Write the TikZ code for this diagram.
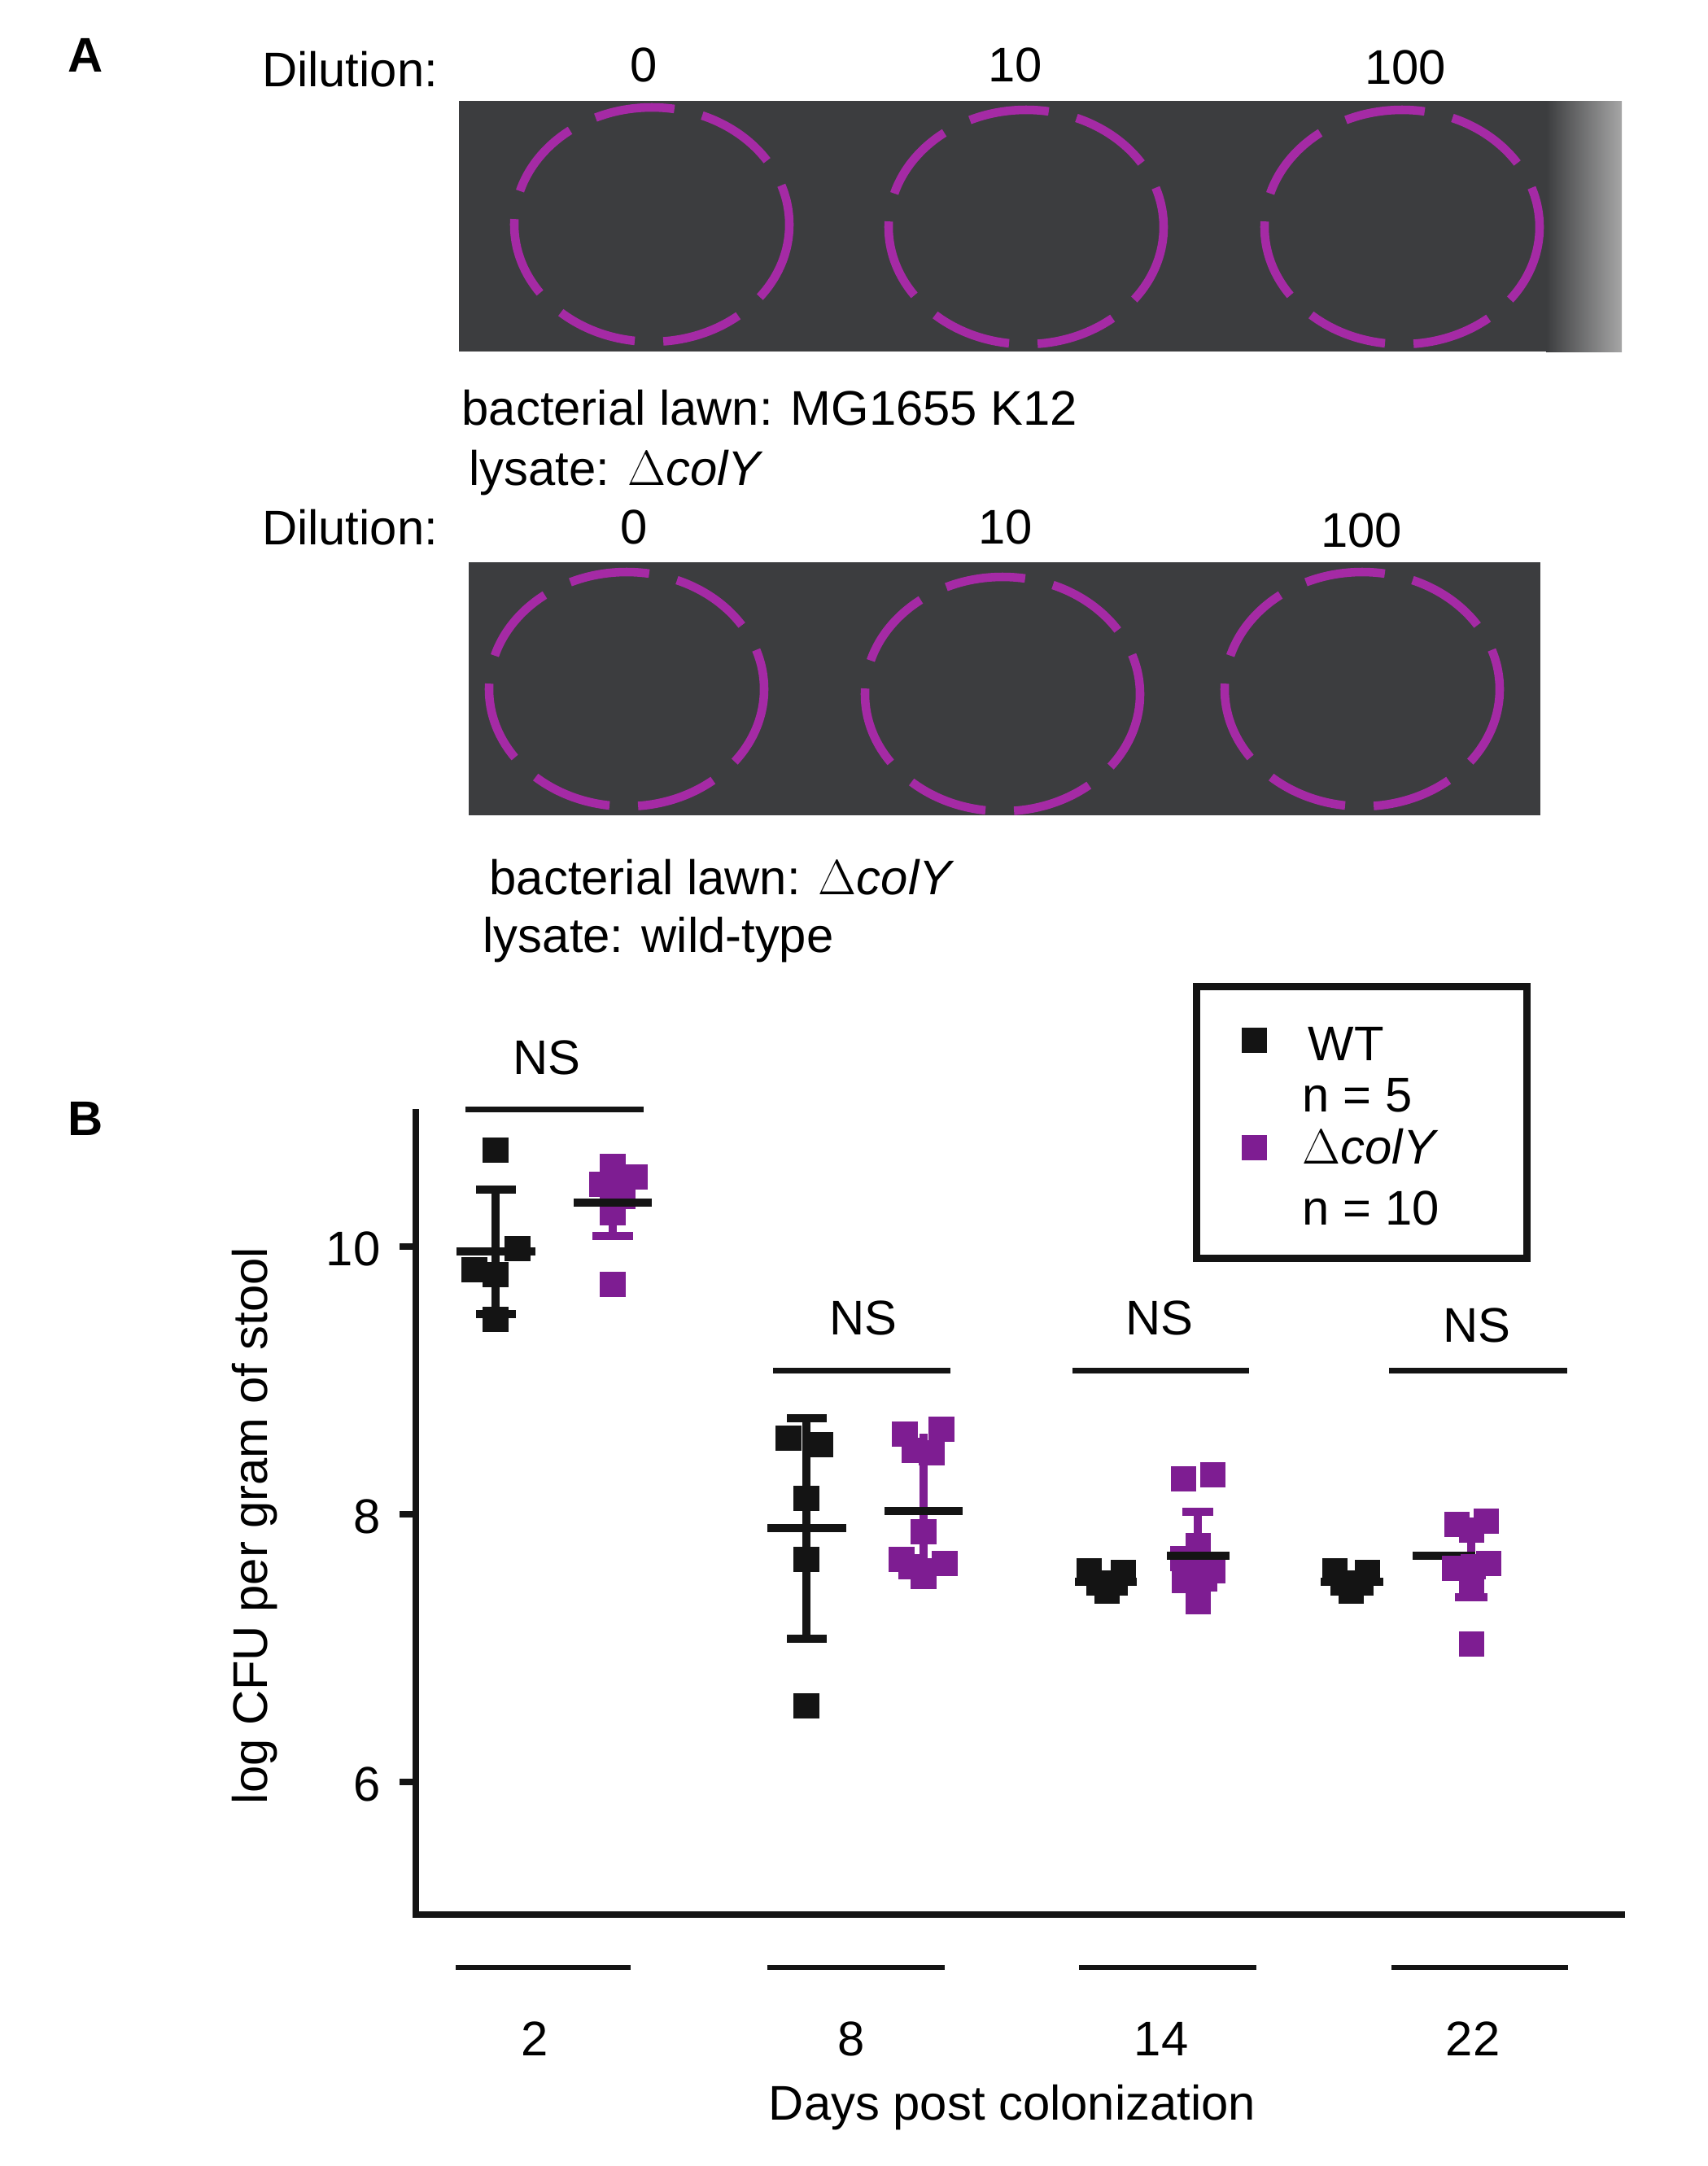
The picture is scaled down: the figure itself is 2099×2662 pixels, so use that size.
\documentclass[tikz,border=0pt]{standalone}
\usepackage{fontspec}
\setmainfont{Liberation Sans}
\begin{document}
\begin{tikzpicture}[x=0.01cm,y=-0.01cm,
  txt/.style={font=\fontsize{17}{20}\selectfont,inner sep=0pt},
  plate/.style={fill=plategray,draw=none},
  ring/.style={draw=ringmag,line width=6pt*0.5,dash pattern=on 28pt off 10pt},
  bs/.style={fill=black!92,minimum size=0.31cm,inner sep=0pt,draw=none,rectangle},
  ps/.style={fill=dpurple,minimum size=0.31cm,inner sep=0pt,draw=none,rectangle},
  bar/.style={line width=0.1cm},
  ax/.style={line width=0.085cm,black!92}]
\definecolor{plategray}{HTML}{3C3D3F}
\definecolor{ringmag}{HTML}{A52AA5}
\definecolor{dpurple}{HTML}{7E1D92}
\useasboundingbox (0,0) rectangle (2099,2662);
% Panel A
\node[txt,font=\fontsize{17}{20}\selectfont\bfseries] (A) at (105,68) {A};
\node[txt] (d1) at (430,85) {Dilution:};
\node[txt] (d10) at (791,80) {0};
\node[txt] (d11) at (1248,80) {10};
\node[txt] (d12) at (1727,83) {100};
\fill[plategray] (564,124) rectangle (1993,432);
\shade[left color=plategray,right color=gray!70] (1900,124) rectangle (1993,432);
\draw[ring] (801,276) ellipse (169 and 144);
\draw[ring] (1261,279) ellipse (169 and 144);
\draw[ring] (1723,279) ellipse (169 and 144);
\node[txt,anchor=west] (l1) at (567,501) {bacterial lawn: MG1655 K12};
\node[txt,anchor=west] (l2) at (576,581) {lysate: $\Delta$\textit{colY}};
\node[txt] (d2) at (430,648) {Dilution:};
\node[txt] (d20) at (779,648) {0};
\node[txt] (d21) at (1236,648) {10};
\node[txt] (d22) at (1673,652) {100};
\fill[plategray] (576,691) rectangle (1893,1002);
\draw[ring] (770,847) ellipse (169 and 144);
\draw[ring] (1232,853) ellipse (169 and 144);
\draw[ring] (1674,847) ellipse (169 and 144);
\node[txt,anchor=west] (l3) at (601,1078) {bacterial lawn: $\Delta$\textit{colY}};
\node[txt,anchor=west] (l4) at (593,1155) {lysate: wild-type};
% Panel B
\node[txt,font=\fontsize{17}{20}\selectfont\bfseries] (B) at (105,1375) {B};
\draw[line width=0.09cm,black!92] (1470,1212) rectangle (1876,1546);
\node[bs] (lgw) at (1541,1278) {};
\node[txt,anchor=west] (wt) at (1607,1283) {WT};
\node[txt,anchor=west] (n5) at (1600,1346) {n = 5};
\node[ps] (lgp) at (1541,1410) {};
\node[txt,anchor=west] (cy) at (1600,1409) {$\Delta$\textit{colY}};
\node[txt,anchor=west] (n10) at (1600,1485) {n = 10};
% axes
\coordinate (o) at (511,2353);
\coordinate (yt) at (511,1363);
\coordinate (xr) at (1997,2353);
\draw[ax] (yt) -- (o) -- (xr);
\foreach \yy/\lab in {1532/10,1861/8,2190/6}{
  \draw[ax] (491,\yy) -- (511,\yy);
  \node[txt,anchor=east] at (468,\yy+3) {\lab};
}
\node[txt,rotate=90] (ylab) at (313,1875) {log CFU per gram of stool};
% NS
\foreach \a/\b/\yy/\cx/\ny in {572/791/1363/672/1300,950/1168/1684/1061/1620,1318/1535/1684/1425/1620,1707/1926/1684/1815/1629}{
  \draw[line width=0.07cm,black!92] (\a,\yy) -- (\b,\yy);
  \node[txt] at (\cx,\ny) {NS};
}
% bottom group lines
\foreach \a/\b/\cx/\lab in {560/775/657/2,943/1161/1046/8,1326/1544/1427/14,1710/1927/1810/22}{
  \draw[line width=0.06cm,black!92] (\a,2418) -- (\b,2418);
  \node[txt] at (\cx,2506) {\lab};
}
\node[txt] (xlab) at (1244,2590) {Days post colonization};
% Day 2 WT
\draw[bar,black!92] (609,1462) -- (609,1615) (585,1462) -- (634,1462) (585,1615) -- (634,1615);
\foreach \p in {(609,1413),(636,1534),(583,1560),(609,1566),(609,1621)} \node[bs] at \p {};
\draw[bar,black!92] (561,1538) -- (658,1538);
% Day 2 colY
\draw[bar,dpurple] (753,1437) -- (753,1519) (728,1519) -- (778,1519);
\foreach \p in {(753,1433),(780,1446),(755,1452),(740,1455),(765,1470),(753,1478),(753,1490),(753,1578)} \node[ps] at \p {};
\draw[bar,black!92] (705,1478) -- (801,1478);
% Day 8 WT
\draw[bar,black!92] (991,1743) -- (991,2014) (967,1743) -- (1016,1743) (967,2014) -- (1016,2014);
\foreach \p in {(969,1767),(1008,1775),(991,1841),(991,1916),(991,2096)} \node[bs] at \p {};
\draw[bar,black!92] (943,1878) -- (1040,1878);
% Day 8 colY
\draw[bar,dpurple] (1135,1762) -- (1135,1930);
\foreach \p in {(1112,1762),(1157,1756),(1124,1782),(1145,1785),(1135,1882),(1108,1916),(1161,1921),(1135,1930),(1135,1937),(1120,1925)} \node[ps] at \p {};
\draw[bar,black!92] (1087,1857) -- (1183,1857);
% Day 14 WT
\foreach \p in {(1338,1930),(1380,1932),(1360,1955),(1370,1945),(1350,1945)} \node[bs] at \p {};
\draw[bar,black!92] (1321,1944) -- (1397,1944);
% Day 14 colY
\draw[bar,dpurple] (1472,1858) -- (1472,1960) (1453,1858) -- (1491,1858);
\foreach \p in {(1454,1817),(1490,1812),(1472,1899),(1453,1915),(1480,1940),(1455,1942),(1472,1957),(1472,1968),(1490,1930),(1465,1930)} \node[ps] at \p {};
\draw[bar,black!92] (1434,1912) -- (1511,1912);
% Day 22 WT
\foreach \p in {(1640,1930),(1680,1932),(1660,1955),(1650,1945),(1672,1945)} \node[bs] at \p {};
\draw[bar,black!92] (1623,1944) -- (1700,1944);
% Day 22 colY
\draw[bar,dpurple] (1808,1873) -- (1808,1963) (1788,1963) -- (1828,1963);
\draw[bar,black!92] (1736,1912) -- (1813,1912);
\foreach \p in {(1790,1873),(1826,1869),(1808,1880),(1787,1927),(1829,1921),(1808,1942),(1810,1925)} \node[ps] at \p {};
\draw[bar,black!92] (1813,1912) -- (1813,1912);
\node[ps] at (1808,2020) {};
\end{tikzpicture}
\end{document}
